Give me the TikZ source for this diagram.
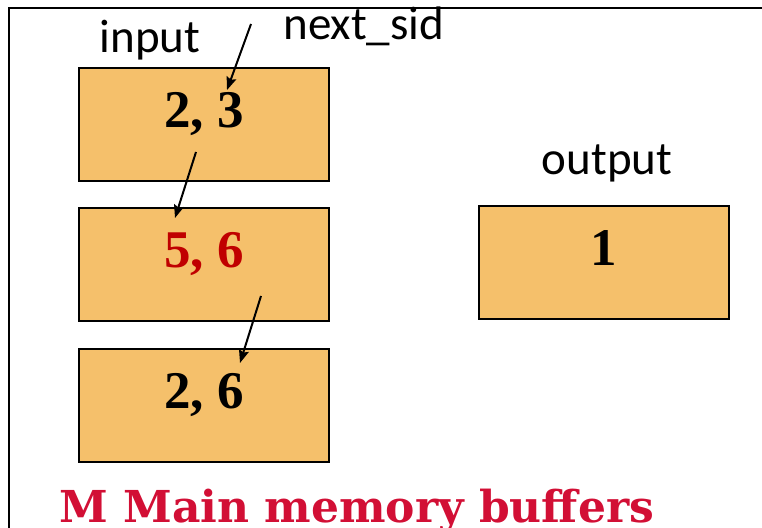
\documentclass[tikz,border=0pt]{standalone}
\usepackage{fontspec}
\setmainfont{Liberation Serif}
\newfontfamily\labelfont{Carlito}
\newfontfamily\titlefont{DejaVu Serif}
\usetikzlibrary{positioning,arrows.meta}
\definecolor{bufferfill}{HTML}{F5C06B}
\definecolor{tuplered}{HTML}{C00000}
\definecolor{titlered}{HTML}{D20F35}

\begin{document}
\begin{tikzpicture}[x=0.5pt,y=-0.5pt,
    buffer/.style={draw,line width=1.2pt,fill=bufferfill,minimum width=125pt,minimum height=56.5pt,
      inner sep=0pt,font=\fontsize{26.5}{30}\selectfont\bfseries,text height=18pt,text depth=14.5pt},
    tag/.style={font=\labelfont\fontsize{23.5}{28}\selectfont,inner sep=0pt},
    ptr/.style={-{Stealth[length=6.5pt,width=5pt,inset=1pt]},line width=1pt}]
  \useasboundingbox (0,0) rectangle (762,528);
  \clip (0,0) rectangle (762,528);
  % frame
  \draw[line width=1.25pt] (9,540) -- (9,8) -- (770,8);
  % buffers
  \node[buffer] (in1) at (204,124.5) {2, 3};
  \node[buffer, below=12.3pt of in1] (in2) {\textcolor{tuplered}{5, 6}};
  \node[buffer, below=12.8pt of in2] (in3) {2, 6};
  \node[buffer, right=73.8pt of in2, yshift=1pt] (out) {1};
  % labels
  \node[tag, anchor=base] (inlbl) at (150,53) {input};
  \node[tag, anchor=base west] (sidlbl) at (283,40) {next\_sid};
  \node[tag, anchor=base] (outlbl) at (607,175) {output};
  \node[font=\titlefont\fontsize{22}{26}\selectfont\bfseries, text=titlered, anchor=base west, inner sep=0pt]
    (title) at (59,523) {M Main memory buffers};
  % pointers
  \coordinate (p1) at (251,24);  \coordinate (q1) at (227,90);
  \coordinate (p2) at (196,152); \coordinate (q2) at (175,218);
  \coordinate (p3) at (261,296); \coordinate (q3) at (240,363);
  \draw[ptr] (p1) -- (q1);
  \draw[ptr] (p2) -- (q2);
  \draw[ptr] (p3) -- (q3);
\end{tikzpicture}
\end{document}
